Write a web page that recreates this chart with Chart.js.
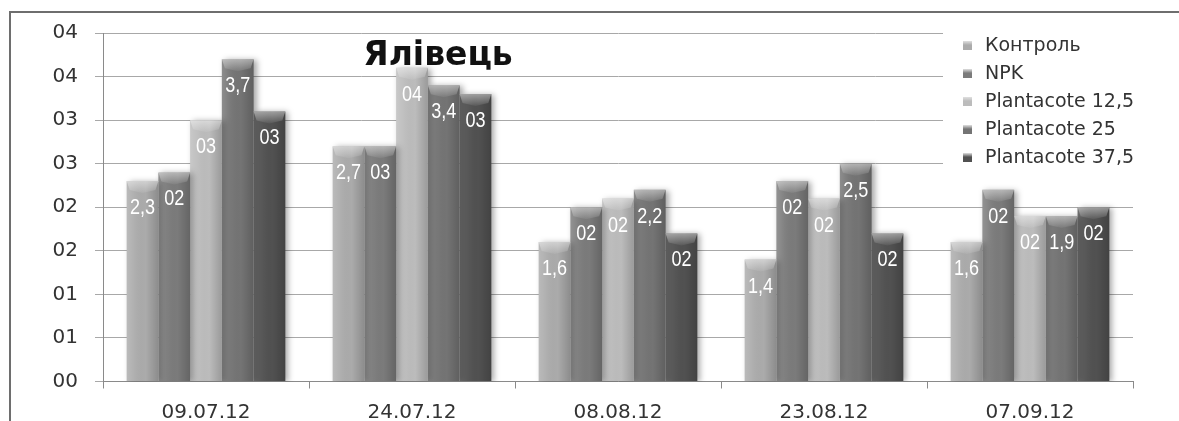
<!DOCTYPE html>
<html>
<head>
<meta charset="utf-8">
<script src="https://cdn.jsdelivr.net/npm/chart.js@4/dist/chart.umd.min.js"></script>
<style>
html,body{margin:0;padding:0;background:#fff;}
#wrap{width:1179px;height:421px;position:relative;}
</style>
</head>
<body>
<div id="wrap"><canvas id="c" width="1179" height="421"></canvas></div>
<script>
const categories = ['09.07.12', '24.07.12', '08.08.12', '23.08.12', '07.09.12'];
const seriesNames = ['Контроль', 'NPK', 'Plantacote 12,5', 'Plantacote 25', 'Plantacote 37,5'];
const kontrol = [2.3, 2.7, 1.6, 1.4, 1.6];
const npk = [2.4, 2.7, 2.0, 2.3, 2.2];
const plantacote125 = [3.0, 3.6, 2.1, 2.1, 1.9];
const plantacote25 = [3.7, 3.4, 2.2, 2.5, 1.9];
const plantacote375 = [3.1, 3.3, 1.7, 1.7, 2.0];
const kontrolLabels = ['2,3', '2,7', '1,6', '1,4', '1,6'];
const npkLabels = ['02', '03', '02', '02', '02'];
const plantacote125Labels = ['03', '04', '02', '02', '02'];
const plantacote25Labels = ['3,7', '3,4', '2,2', '2,5', '1,9'];
const plantacote375Labels = ['03', '03', '02', '02', '02'];
const yTickLabels = ['00', '01', '01', '02', '02', '03', '03', '04', '04'];
const chartTitle = 'Ялівець';

const seriesValues = [kontrol, npk, plantacote125, plantacote25, plantacote375];
const seriesLabels = [kontrolLabels, npkLabels, plantacote125Labels, plantacote25Labels, plantacote375Labels];
const colors = ['#ababab', '#7b7b7b', '#bcbcbc', '#747474', '#515151'];
const axisFont = "'DejaVu Sans', sans-serif";

const decorPlugin = {
  id: 'decor',
  beforeDatasetsDraw(chart) {
    const ctx = chart.ctx;
    ctx.save();
    ctx.fillStyle = '#ffffff';
    ctx.fillRect(943, 20, 236, 155);
    ctx.restore();
  },
  beforeDatasetDraw(chart) {
    const ctx = chart.ctx;
    ctx.save();
    ctx.shadowColor = 'rgba(0,0,0,0.35)';
    ctx.shadowBlur = 6;
    ctx.shadowOffsetX = 3;
    ctx.shadowOffsetY = 1;
  },
  afterDatasetDraw(chart) {
    chart.ctx.restore();
  },
  afterDatasetsDraw(chart) {
    const ctx = chart.ctx;
    ctx.save();
    chart.data.datasets.forEach((ds, di) => {
      const meta = chart.getDatasetMeta(di);
      meta.data.forEach((bar, i) => {
        const l = bar.x - bar.width / 2, r = bar.x + bar.width / 2;
        const t = bar.y, b = bar.base;
        const g = ctx.createLinearGradient(l, 0, r, 0);
        g.addColorStop(0, 'rgba(255,255,255,0.18)');
        g.addColorStop(0.25, 'rgba(255,255,255,0.05)');
        g.addColorStop(0.6, 'rgba(0,0,0,0)');
        g.addColorStop(1, 'rgba(0,0,0,0.18)');
        ctx.fillStyle = g;
        ctx.fillRect(l, t, r - l, b - t);
        const bh = 9;
        ctx.beginPath();
        ctx.moveTo(l, t);
        ctx.lineTo(r, t);
        ctx.lineTo(r - 3, t + bh);
        ctx.lineTo(bar.x, t + bh + 3);
        ctx.lineTo(l + 3, t + bh);
        ctx.closePath();
        const gb = ctx.createLinearGradient(0, t, 0, t + bh + 3);
        gb.addColorStop(0, 'rgba(255,255,255,0.45)');
        gb.addColorStop(1, 'rgba(255,255,255,0.05)');
        ctx.fillStyle = gb;
        ctx.fill();
        ctx.save();
        ctx.translate(bar.x, t + 27);
        ctx.scale(0.82, 1);
        ctx.fillStyle = '#ffffff';
        ctx.font = "22px 'Liberation Sans', Arial, sans-serif";
        ctx.textAlign = 'center';
        ctx.textBaseline = 'middle';
        ctx.fillText(seriesLabels[di][i], 0, 0);
        ctx.restore();
      });
    });
    ctx.restore();
  },
  afterDraw(chart) {
    const ctx = chart.ctx;
    ctx.save();
    ctx.strokeStyle = '#6e6e6e';
    ctx.lineWidth = 2;
    ctx.beginPath();
    ctx.moveTo(10, 421);
    ctx.lineTo(10, 12);
    ctx.lineTo(1179, 12);
    ctx.stroke();
    ctx.fillStyle = '#111111';
    ctx.font = "bold 33px 'DejaVu Sans', sans-serif";
    ctx.textAlign = 'center';
    ctx.textBaseline = 'middle';
    ctx.fillText(chartTitle, 438, 56);
    ctx.font = "19px " + axisFont;
    ctx.textAlign = 'left';
    seriesNames.forEach((name, i) => {
      const y = 45 + i * 28;
      const g = ctx.createLinearGradient(0, y - 4, 0, y + 5);
      g.addColorStop(0, '#e0e0e0');
      g.addColorStop(0.45, colors[i]);
      g.addColorStop(1, colors[i]);
      ctx.fillStyle = g;
      ctx.fillRect(963, y - 4, 9, 9);
      ctx.fillStyle = '#333333';
      ctx.fillText(name, 985, y + 1);
    });
    ctx.restore();
  }
};

new Chart(document.getElementById('c'), {
  type: 'bar',
  data: {
    labels: categories,
    datasets: seriesValues.map((vals, i) => ({
      label: seriesNames[i],
      data: vals,
      backgroundColor: colors[i],
      borderWidth: 0,
      categoryPercentage: 0.77,
      barPercentage: 1.0
    }))
  },
  options: {
    responsive: false,
    animation: false,
    layout: { padding: { left: 0, right: 46, top: 33, bottom: 0 } },
    plugins: {
      legend: { display: false },
      title: { display: false },
      tooltip: { enabled: false }
    },
    scales: {
      x: {
        afterFit(scale) { scale.height = 39.5; },
        grid: { drawOnChartArea: false, drawTicks: true, tickLength: 7, color: '#8a8a8a', offset: true },
        border: { display: true, color: '#8a8a8a', width: 1 },
        ticks: { color: '#333333', font: { family: axisFont, size: 20 }, padding: 12 }
      },
      y: {
        min: 0,
        max: 4,
        afterFit(scale) { scale.width = 103; },
        grid: { color: '#a8a8a8', tickLength: 8, drawTicks: true },
        border: { display: true, color: '#8a8a8a', width: 1 },
        ticks: {
          stepSize: 0.5,
          color: '#333333',
          padding: 17,
          font: { family: axisFont, size: 20 },
          callback: (v, idx) => yTickLabels[idx]
        }
      }
    }
  },
  plugins: [decorPlugin]
});
</script>
</body>
</html>
